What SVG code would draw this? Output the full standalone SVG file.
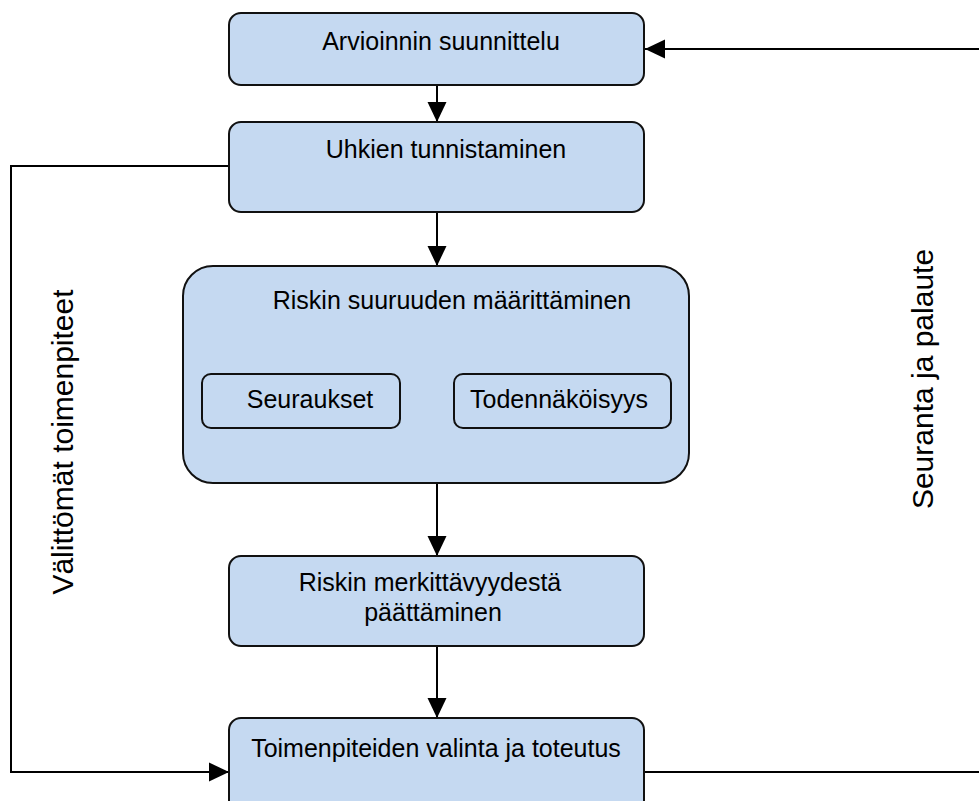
<svg xmlns="http://www.w3.org/2000/svg" width="979" height="801" viewBox="0 0 979 801">
<style>
.box{fill:#c5d9f1;stroke:#111;stroke-width:2}
.t{font-family:"Liberation Sans",Arial,sans-serif;font-size:25px;fill:#000}
.big{font-family:"Liberation Sans",Arial,sans-serif;font-size:30px;fill:#000}
.c{text-anchor:middle}
.line{fill:none;stroke:#000;stroke-width:2}
</style>
<defs>
<marker id="arr" markerUnits="userSpaceOnUse" markerWidth="20" markerHeight="20" viewBox="0 0 20 20" refX="20" refY="10" orient="auto">
<path d="M0,0.5 L20,10 L0,19.5 Z" fill="#000"/>
</marker>
</defs>
<rect width="979" height="801" fill="#fff"/>
<g id="connectors">
<line class="line" x1="437" y1="85" x2="437" y2="122" marker-end="url(#arr)"/>
<line class="line" x1="437" y1="212" x2="437" y2="266" marker-end="url(#arr)"/>
<line class="line" x1="437" y1="483" x2="437" y2="556" marker-end="url(#arr)"/>
<line class="line" x1="437" y1="646" x2="437" y2="718" marker-end="url(#arr)"/>
<path class="line" d="M229,166 H11 V772 H229" marker-end="url(#arr)"/>
<path class="line" d="M644,772 H990 V49 H645" marker-end="url(#arr)"/>
</g>
<g id="n1">
<rect class="box" x="229" y="13" width="415" height="72" rx="12"/>
<text class="t c" x="441" y="50">Arvioinnin suunnittelu</text>
</g>
<g id="n2">
<rect class="box" x="229" y="122" width="415" height="90" rx="12"/>
<text class="t c" x="446" y="158">Uhkien tunnistaminen</text>
</g>
<g id="n3">
<rect class="box" x="183" y="266" width="506" height="217" rx="30"/>
<text class="t c" x="452" y="309">Riskin suuruuden määrittäminen</text>
<g id="n3a">
<rect class="box" x="202" y="374" width="198" height="54" rx="9"/>
<text class="t c" x="310" y="408">Seuraukset</text>
</g>
<g id="n3b">
<rect class="box" x="454" y="374" width="217" height="54" rx="9"/>
<text class="t c" x="559" y="408">Todennäköisyys</text>
</g>
</g>
<g id="n4">
<rect class="box" x="229" y="556" width="415" height="90" rx="12"/>
<text class="t c" x="430" y="591">Riskin merkittävyydestä</text>
<text class="t c" x="433" y="621">päättäminen</text>
</g>
<g id="n5">
<rect class="box" x="229" y="718" width="415" height="100" rx="12"/>
<text class="t c" x="436" y="757">Toimenpiteiden valinta ja toteutus</text>
</g>
<g id="labels">
<text class="big c" transform="translate(73,442) rotate(-90)">Välittömät toimenpiteet</text>
<text class="big c" transform="translate(933,379) rotate(-90)">Seuranta ja palaute</text>
</g>
</svg>
